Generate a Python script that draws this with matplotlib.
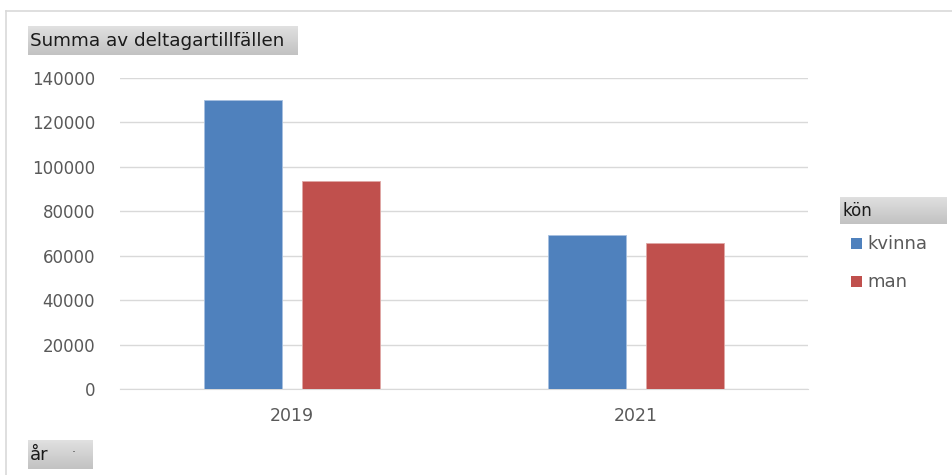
import matplotlib
matplotlib.use("Agg")
import matplotlib.pyplot as plt
import numpy as np
from matplotlib.patches import Rectangle
from matplotlib.lines import Line2D

years = ["2019", "2021"]
kvinna = [130000, 69500]
man = [93500, 65500]
yticks = [0, 20000, 40000, 60000, 80000, 100000, 120000, 140000]

W, H = 952, 475
fig = plt.figure(figsize=(W / 100, H / 100), dpi=100)
fig.patch.set_facecolor("white")

def fx(px):
    return px / W

def fy(py):
    return 1 - py / H

ax = fig.add_axes([fx(120), fy(389), fx(808) - fx(120), fy(78) - fy(389)])
x = np.arange(len(years))
bw = 0.224
off = 0.1425
ax.bar(x - off, kvinna, bw, color="#4f81bd", edgecolor="#a6c0e0", linewidth=0.6, zorder=3)
ax.bar(x + off, man, bw, color="#c0504d", edgecolor="#e0a8a6", linewidth=0.6, zorder=3)
ax.set_xlim(-0.5, 1.5)
ax.set_ylim(0, 140000)
ax.set_yticks(yticks)
ax.set_yticklabels([str(v) for v in yticks])
ax.set_xticks(x)
ax.set_xticklabels(years)
ax.yaxis.grid(True, color="#d9d9d9", linewidth=1.0, zorder=0)
ax.set_axisbelow(True)
for s in ["top", "right", "left"]:
    ax.spines[s].set_visible(False)
ax.spines["bottom"].set_color("#d9d9d9")
ax.tick_params(axis="both", length=0, colors="#595959")
ax.tick_params(axis="y", pad=18, labelsize=12)
ax.tick_params(axis="x", pad=13, labelsize=12.5)

# Outer frame
fig.add_artist(Line2D([fx(6), fx(6)], [fy(11), 0], color="#d9d9d9", lw=1.2, transform=fig.transFigure))
fig.add_artist(Line2D([fx(6), 1], [fy(11), fy(11)], color="#d9d9d9", lw=1.2, transform=fig.transFigure))

def button(x0, y0, x1, y1, text, fs=11, dot=False):
    grad = np.linspace(0.88, 0.76, 50).reshape(-1, 1)
    bax = fig.add_axes([fx(x0), fy(y1), fx(x1) - fx(x0), fy(y0) - fy(y1)])
    bax.imshow(np.dstack([grad, grad, grad]), aspect="auto", extent=[0, 1, 0, 1])
    bax.set_xlim(0, 1)
    bax.set_ylim(0, 1)
    bax.axis("off")
    fig.text(fx(x0 + 2), fy((y0 + y1) / 2), text, fontsize=fs, color="#1a1a1a", va="center", ha="left")
    if dot:
        fig.text(fx(x1 - 18), fy((y0 + y1) / 2), "·", fontsize=8, color="#444444", va="center", ha="center")

button(28, 26, 298, 55, "Summa av deltagartillfällen", fs=13.2)
button(28, 440, 92, 469, "år", fs=13)
button(840, 197, 947, 224, "kön", fs=12)
fig.text(fx(74), fy(453), "·", fontsize=9, color="#444444", va="center", ha="center")

# Legend entries
for lbl, col, py in [("kvinna", "#4f81bd", 244), ("man", "#c0504d", 282)]:
    fig.add_artist(Rectangle((fx(851), fy(py + 5)), fx(11), fy(py - 6) - fy(py + 5),
                             facecolor=col, edgecolor="none", transform=fig.transFigure))
    fig.text(fx(867), fy(py), lbl, fontsize=13, color="#595959", va="center", ha="left")

fig.savefig("out.png", dpi=100, facecolor="white")
